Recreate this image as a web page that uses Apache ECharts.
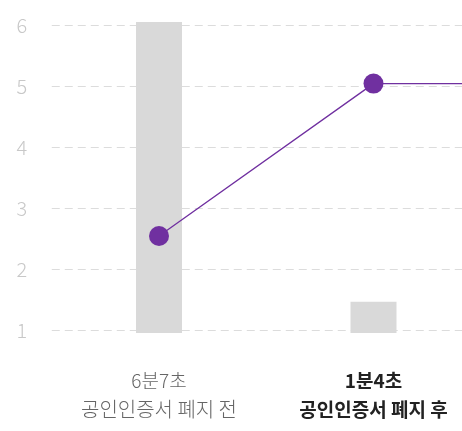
<!DOCTYPE html>
<html>
<head>
<meta charset="utf-8">
<script src="https://cdn.jsdelivr.net/npm/echarts@6/dist/echarts.min.js"></script>
<style>
  html, body { margin: 0; padding: 0; background: #fff; }
  #chart { width: 462px; height: 431px; }
</style>
</head>
<body>
<div id="chart"></div>
<script>
// categories: the third one is only there so the line runs on to the right edge
const timeLabels = ['6분7초', '1분4초', ''];
const stageLabels = ['공인인증서 폐지 전', '공인인증서 폐지 후', ''];
const barValues = [6.06, 1.47, '-'];
const lineValues = [2.55, 5.05, 5.05];
const yTicks = [1, 2, 3, 4, 5, 6];

const chart = echarts.init(document.getElementById('chart'));

const option = {
  animation: false,
  grid: {
    left: 51.75,
    right: -233.25,
    top: 19.6,
    bottom: 98.1,
    outerBoundsMode: 'none',
    containLabel: false
  },
  xAxis: {
    type: 'category',
    data: timeLabels,
    axisLine: { show: false },
    axisTick: { show: false },
    axisLabel: {
      interval: 0,
      margin: 33,
      formatter: (val, idx) => {
        if (idx === 0) return `{t|${val}}\n{s|${stageLabels[idx]}}`;
        if (idx === 1) return `{tb|${val}}\n{sb|${stageLabels[idx]}}`;
        return '';
      },
      rich: {
        t: { fontFamily: 'Noto Sans CJK KR', fontSize: 19, fontWeight: 300, color: '#666', lineHeight: 30 },
        s: { fontFamily: 'Noto Sans CJK KR', fontSize: 20, fontWeight: 300, color: '#666', lineHeight: 28 },
        tb: { fontFamily: 'Noto Sans CJK KR', fontSize: 19, fontWeight: 'bold', color: '#222', lineHeight: 30 },
        sb: { fontFamily: 'Noto Sans CJK KR', fontSize: 19, fontWeight: 'bold', color: '#222', lineHeight: 28 }
      }
    }
  },
  yAxis: {
    type: 'value',
    min: 0.96,
    max: 6.1,
    axisLine: { show: false },
    axisTick: { show: false, customValues: yTicks },
    axisLabel: {
      customValues: yTicks,
      align: 'center',
      margin: 30,
      padding: [0, 0, 12, 0],
      fontFamily: 'Noto Sans CJK KR',
      fontWeight: 300,
      fontSize: 20,
      color: '#c8c8c8'
    },
    splitLine: {
      lineStyle: { color: '#dcdcdc', width: 1, type: [8, 5] }
    }
  },
  series: [
    {
      type: 'bar',
      data: barValues,
      barWidth: 46,
      itemStyle: { color: '#d9d9d9' },
      z: 1
    },
    {
      type: 'line',
      data: lineValues.map((v, i) => (i === lineValues.length - 1 ? { value: v, symbol: 'none' } : v)),
      symbol: 'circle',
      symbolSize: 20,
      lineStyle: { color: '#7030a0', width: 1.3 },
      itemStyle: { color: '#7030a0' },
      z: 3
    }
  ]
};

chart.setOption(option);
</script>
</body>
</html>
